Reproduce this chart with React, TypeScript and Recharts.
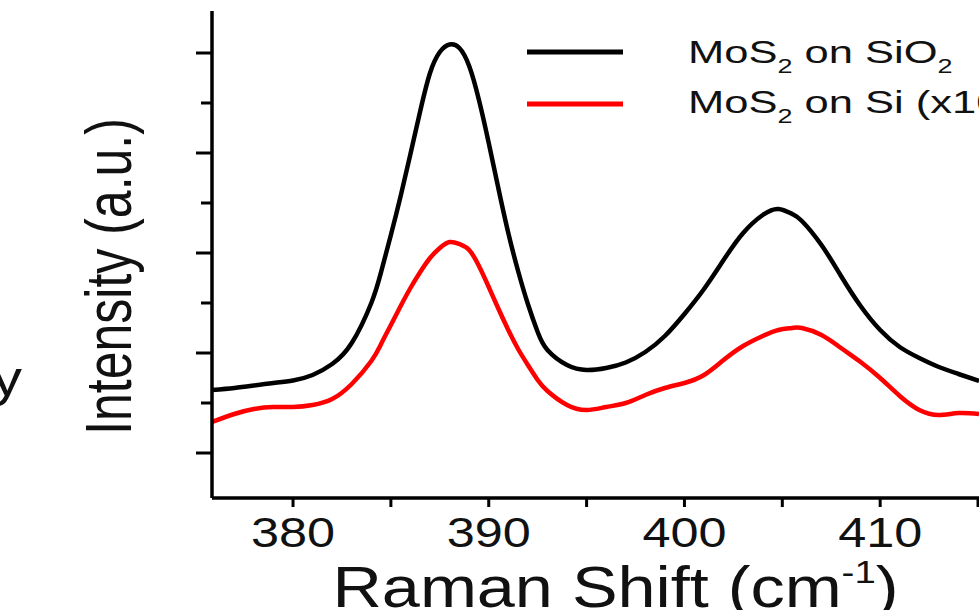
import React from 'react';
import { LineChart, Line, XAxis, YAxis, Legend, Label } from 'recharts';

// Raman shift (cm^-1)
const ramanShift = [
  375.86, 377, 378, 379, 380, 381, 382, 383, 384, 384.5, 385, 385.5, 386, 386.5, 387, 387.5, 388,
  388.5, 389, 389.5, 390, 390.5, 391, 391.5, 392, 392.5, 393, 394, 395, 396, 397, 398, 399, 400,
  401, 402, 403, 404, 404.8, 405.5, 406, 407, 408, 409, 410, 411, 412, 413, 414, 415.05,
];

// intensity, arbitrary units (one unit = one y tick step)
const onSiO2 = [
  1.26, 1.3, 1.35, 1.4, 1.45, 1.56, 1.78, 2.2, 3.0, 3.62, 4.36, 5.14, 5.98, 6.84, 7.6, 8.02, 8.17,
  8.1, 7.74, 7.06, 6.2, 5.28, 4.4, 3.64, 2.98, 2.42, 2.06, 1.76, 1.66, 1.7, 1.81, 2.02, 2.34, 2.78,
  3.28, 3.86, 4.4, 4.76, 4.88, 4.78, 4.64, 4.16, 3.54, 2.94, 2.46, 2.12, 1.9, 1.72, 1.58, 1.44,
];

const onSiX10 = [
  0.62, 0.78, 0.88, 0.92, 0.92, 0.96, 1.08, 1.38, 1.84, 2.18, 2.56, 2.94, 3.3, 3.62, 3.9, 4.1, 4.22,
  4.18, 4.06, 3.74, 3.32, 2.88, 2.46, 2.08, 1.76, 1.46, 1.24, 0.96, 0.86, 0.92, 1.0, 1.16, 1.3, 1.4,
  1.56, 1.86, 2.14, 2.34, 2.46, 2.5, 2.5, 2.36, 2.1, 1.82, 1.5, 1.14, 0.86, 0.76, 0.8, 0.78,
];

const seriesNames = ['MoS2 on SiO2', 'MoS2 on Si (x10)'];
const xTicks = [380, 385, 390, 395, 400, 405, 410, 415];
const xTickLabels = ['380', '', '390', '', '400', '', '410', ''];
const yTicks = [0, 1, 2, 3, 4, 5, 6, 7, 8];

const xDomain = [375.86, 415.05];
const yDomain = [-0.9, 8.84];

const data = ramanShift.map((shift, i) => ({
  shift,
  sio2: onSiO2[i],
  si: onSiX10[i],
}));

const FONT = '"Liberation Sans", Arial, sans-serif';
const INK = '#111';

// "MoS2" -> MoS + subscript 2
const withSubscripts = (name: string, size: number) =>
  name.split(/(?<=[A-Za-z])(2)/).map((part, i) =>
    part === '2' ? (
      <tspan key={i} fontSize={size * 0.62} dy={size * 0.3}>
        2
      </tspan>
    ) : (
      <tspan key={i} dy={i > 0 && part.length ? -size * 0.3 : 0}>
        {part}
      </tspan>
    ),
  );

const XTick = (props: any) => {
  const { x, y, payload } = props;
  const label = xTickLabels[xTicks.indexOf(payload.value)];
  if (!label) return null;
  return (
    <g transform={`translate(${x},${y + 40}) scale(1.2,1)`}>
      <text textAnchor="middle" fontSize={42} fontFamily={FONT} fill={INK}>
        {label}
      </text>
    </g>
  );
};

const YTick = (props: any) => {
  const { x, y, payload } = props;
  const major = payload.value % 2 === 0;
  return <line x1={major ? x : x + 5} x2={x + 16} y1={y} y2={y} stroke="#000" strokeWidth={3} />;
};

const XTitle = (props: any) => {
  const { x, y, width } = props.viewBox;
  return (
    <g transform={`translate(${x + width / 2 + 20},${y + 109}) scale(1.2,1)`}>
      <text textAnchor="middle" fontSize={57} fontFamily={FONT} fill={INK}>
        Raman Shift (cm
        <tspan fontSize={32} dy={-24}>
          -1
        </tspan>
        <tspan dy={24}>)</tspan>
      </text>
    </g>
  );
};

const YTitle = (props: any) => {
  const { x, y, height } = props.viewBox;
  return (
    <g transform={`translate(${x - 21},${y + height / 2 + 22}) scale(1.3,1) rotate(-90)`}>
      <text textAnchor="middle" fontSize={50} fontFamily={FONT} fill={INK}>
        Intensity (a.u.)
      </text>
    </g>
  );
};

const renderLegend = (props: any) => {
  const { payload = [] } = props;
  // keep the order of the series, not the alphabetical one
  const items = [...payload].sort(
    (a: any, b: any) => seriesNames.indexOf(a.value) - seriesNames.indexOf(b.value),
  );
  return (
    <svg width={979} height={130} style={{ display: 'block' }}>
      {items.map((entry: any, i: number) => (
        <g key={entry.value}>
          <line x1={527} x2={623} y1={52 + i * 52} y2={52 + i * 52} stroke={entry.color} strokeWidth={5} />
          <g transform={`translate(688,${63 + i * 50}) scale(1.36,1)`}>
            <text fontSize={32} fontFamily={FONT} fill={INK}>
              {withSubscripts(entry.value, 32)}
            </text>
          </g>
        </g>
      ))}
    </svg>
  );
};

export default function App() {
  return (
    <div style={{ width: 979, height: 610, position: 'relative', overflow: 'hidden' }}>
      <style>{'body{margin:0}'}</style>
      <LineChart width={979} height={610} data={data} margin={{ top: 11, right: 0, bottom: 52, left: 152 }}>
        <XAxis
          dataKey="shift"
          type="number"
          domain={xDomain}
          ticks={xTicks}
          interval={0}
          allowDataOverflow
          height={60}
          tickSize={9}
          tickMargin={0}
          tick={<XTick />}
          tickLine={{ stroke: '#000', strokeWidth: 3 }}
          axisLine={{ stroke: '#000', strokeWidth: 3.5 }}
        >
          <Label content={<XTitle />} />
        </XAxis>
        <XAxis
          xAxisId="top"
          orientation="top"
          dataKey="shift"
          type="number"
          domain={xDomain}
          height={0}
          tick={false}
          tickLine={false}
          axisLine={{ stroke: '#000', strokeWidth: 3.5 }}
        />
        <YAxis
          type="number"
          domain={yDomain}
          ticks={yTicks}
          interval={0}
          allowDataOverflow
          width={60}
          tickSize={16}
          tickMargin={0}
          tickLine={false}
          tick={<YTick />}
          axisLine={{ stroke: '#000', strokeWidth: 3.5 }}
        >
          <Label content={<YTitle />} />
        </YAxis>
        <Legend
          layout="horizontal"
          verticalAlign="middle"
          align="center"
          wrapperStyle={{ top: 0, left: 0, width: 979, height: 130 }}
          content={renderLegend}
        />
        <Line
          dataKey="sio2"
          name={seriesNames[0]}
          type="natural"
          stroke="#000"
          strokeWidth={4.5}
          dot={false}
          activeDot={false}
          isAnimationActive={false}
        />
        <Line
          dataKey="si"
          name={seriesNames[1]}
          type="natural"
          stroke="#ff0000"
          strokeWidth={4.5}
          dot={false}
          activeDot={false}
          isAnimationActive={false}
        />
      </LineChart>
      <svg width={40} height={610} style={{ position: 'absolute', left: 0, top: 0 }}>
        <g transform="translate(22,396) scale(1.2,1)">
          <text textAnchor="end" fontSize={50} fontFamily={FONT} fill={INK}>
            y
          </text>
        </g>
      </svg>
    </div>
  );
}
